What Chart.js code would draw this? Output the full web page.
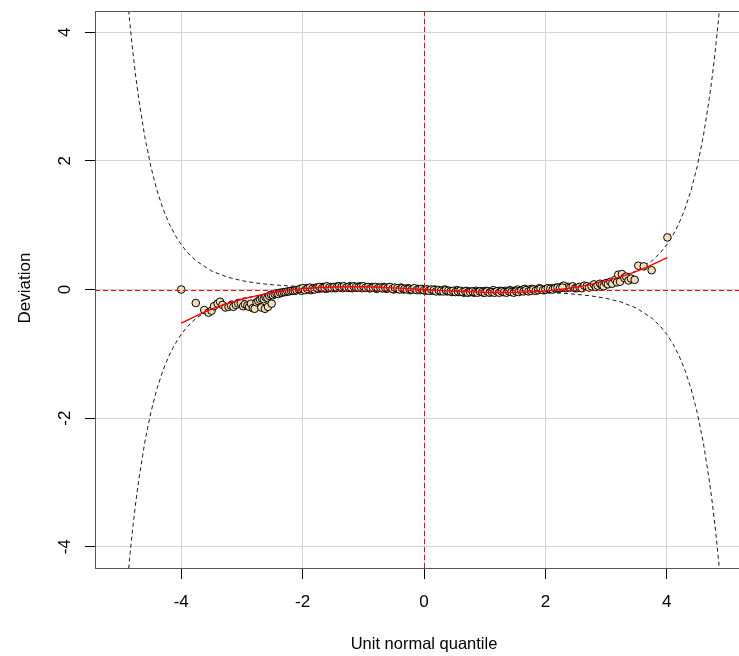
<!DOCTYPE html>
<html>
<head>
<meta charset="utf-8">
<title>Worm plot</title>
<script src="https://cdn.jsdelivr.net/npm/chart.js@4/dist/chart.umd.min.js"></script>
<style>
  html, body { margin: 0; padding: 0; background: #ffffff; overflow: hidden; }
  #wrap { width: 770px; height: 656px; }
</style>
</head>
<body>
<div id="wrap"><canvas id="c" width="770" height="656"></canvas></div>
<script>
// Axis ticks
const xTicks = [-4, -2, 0, 2, 4];
const xTickLabels = ['-4', '-2', '0', '2', '4'];
const yTicks = [-4, -2, 0, 2, 4];
const yTickLabels = ['-4', '-2', '0', '2', '4'];

// Residual quantiles (unit normal quantile) and their deviations
const wormX = [
  -4.00, -3.76, -3.62, -3.55, -3.50, -3.46, -3.40, -3.36, -3.32, -3.27,
  -3.22, -3.18, -3.14, -3.10, -3.06, -3.02, -2.98, -2.95, -2.91, -2.88,
  -2.85, -2.82, -2.79, -2.76, -2.73, -2.70, -2.68, -2.67, -2.64, -2.62,
  -2.61, -2.58, -2.57, -2.55, -2.52, -2.51, -2.49, -2.46, -2.43, -2.40,
  -2.37, -2.34, -2.31, -2.28, -2.25, -2.22, -2.19, -2.16, -2.13, -2.10,
  -2.06, -2.02, -1.98, -1.94, -1.90, -1.86, -1.82, -1.78, -1.74, -1.70,
  -1.66, -1.62, -1.58, -1.54, -1.50, -1.46, -1.42, -1.38, -1.34, -1.30,
  -1.26, -1.22, -1.18, -1.14, -1.10, -1.06, -1.02, -0.98, -0.94, -0.90,
  -0.86, -0.82, -0.78, -0.74, -0.70, -0.66, -0.62, -0.58, -0.54, -0.50,
  -0.46, -0.42, -0.38, -0.34, -0.30, -0.26, -0.22, -0.18, -0.14, -0.10,
  -0.06, -0.02, 0.02, 0.06, 0.10, 0.14, 0.18, 0.22, 0.26, 0.30,
  0.34, 0.38, 0.42, 0.46, 0.50, 0.54, 0.58, 0.62, 0.66, 0.70,
  0.74, 0.78, 0.82, 0.86, 0.90, 0.94, 0.98, 1.02, 1.06, 1.10,
  1.14, 1.18, 1.22, 1.26, 1.30, 1.34, 1.38, 1.42, 1.46, 1.50,
  1.54, 1.58, 1.62, 1.66, 1.70, 1.74, 1.78, 1.82, 1.86, 1.90,
  1.94, 1.98, 2.02, 2.06, 2.10, 2.14, 2.18, 2.22, 2.26, 2.30,
  2.34, 2.38, 2.41, 2.45, 2.49, 2.52, 2.56, 2.60, 2.64, 2.68,
  2.72, 2.76, 2.80, 2.83, 2.86, 2.90, 2.93, 2.96, 3.00, 3.03,
  3.07, 3.10, 3.15, 3.18, 3.20, 3.23, 3.26, 3.30, 3.33, 3.37,
  3.41, 3.47, 3.53, 3.62, 3.75, 4.01
];
const wormY = [
  0.00, -0.21, -0.32, -0.36, -0.33, -0.26, -0.22, -0.19, -0.24, -0.28,
  -0.27, -0.25, -0.27, -0.24, -0.22, -0.21, -0.26, -0.23, -0.25, -0.27,
  -0.22, -0.29, -0.30, -0.20, -0.18, -0.16, -0.28, -0.14, -0.15, -0.30,
  -0.12, -0.13, -0.27, -0.10, -0.08, -0.22, -0.09, -0.07, -0.06, -0.07,
  -0.05, -0.05, -0.04, -0.04, -0.03, -0.03, -0.02, -0.02, -0.02, -0.01,
  0.00, -0.02, 0.01, 0.02, 0.00, -0.01, 0.02, 0.03, 0.01, 0.03,
  0.04, 0.01, 0.02, 0.04, 0.03, 0.02, 0.05, 0.03, 0.02, 0.04,
  0.03, 0.05, 0.02, 0.04, 0.03, 0.05, 0.02, 0.04, 0.03, 0.02,
  0.04, 0.03, 0.01, 0.03, 0.02, 0.04, 0.01, 0.03, 0.02, 0.00,
  0.02, 0.01, 0.03, 0.00, 0.01, 0.02, -0.01, 0.01, 0.00, 0.01,
  -0.01, 0.00, -0.02, 0.00, -0.01, -0.02, 0.00, -0.01, -0.03, -0.02,
  0.00, -0.03, -0.02, -0.04, -0.03, -0.01, -0.04, -0.03, -0.05, -0.02,
  -0.04, -0.03, -0.05, -0.02, -0.04, -0.03, -0.05, -0.02, -0.04, -0.03,
  -0.01, -0.04, -0.03, -0.02, -0.04, -0.02, -0.03, -0.01, -0.03, -0.02,
  0.00, -0.02, -0.01, 0.01, -0.02, 0.00, 0.01, -0.01, 0.00, 0.02,
  0.00, -0.01, 0.01, 0.00, 0.02, 0.01, 0.03, 0.01, 0.04, 0.06,
  0.02, 0.04, 0.03, 0.05, 0.02, 0.02, 0.04, 0.02, 0.06, 0.05,
  0.03, 0.05, 0.08, 0.04, 0.06, 0.09, 0.07, 0.05, 0.10, 0.08,
  0.12, 0.09, 0.15, 0.11, 0.23, 0.12, 0.24, 0.18, 0.20, 0.14,
  0.17, 0.15, 0.37, 0.36, 0.30, 0.81
];

// Extra residuals in the crowded centre of the worm
const centreX = [
  -2.04, -2.00, -1.96, -1.92, -1.88, -1.84, -1.80, -1.76, -1.72, -1.68,
  -1.64, -1.60, -1.56, -1.52, -1.48, -1.44, -1.40, -1.36, -1.32, -1.28,
  -1.24, -1.20, -1.16, -1.12, -1.08, -1.04, -1.00, -0.96, -0.92, -0.88,
  -0.84, -0.80, -0.76, -0.72, -0.68, -0.64, -0.60, -0.56, -0.52, -0.48,
  -0.44, -0.40, -0.36, -0.32, -0.28, -0.24, -0.20, -0.16, -0.12, -0.08,
  -0.04, 0.00, 0.04, 0.08, 0.12, 0.16, 0.20, 0.24, 0.28, 0.32,
  0.36, 0.40, 0.44, 0.48, 0.52, 0.56, 0.60, 0.64, 0.68, 0.72,
  0.76, 0.80, 0.84, 0.88, 0.92, 0.96, 1.00, 1.04, 1.08, 1.12,
  1.16, 1.20, 1.24, 1.28, 1.32, 1.36, 1.40, 1.44, 1.48, 1.52,
  1.56, 1.60, 1.64, 1.68, 1.72, 1.76, 1.80, 1.84, 1.88, 1.92,
  1.96, 2.00, 2.04, 2.08, 2.12, 2.16, 2.20, 2.24, 2.28
];
const centreY = [
  0.01, 0.02, -0.01, 0.01, 0.03, 0.01, 0.00, 0.02, 0.04, 0.02,
  0.03, 0.05, 0.03, 0.02, 0.04, 0.03, 0.05, 0.04, 0.05, 0.03,
  0.04, 0.03, 0.05, 0.04, 0.03, 0.04, 0.05, 0.03, 0.04, 0.02,
  0.03, 0.04, 0.02, 0.03, 0.02, 0.03, 0.02, 0.04, 0.01, 0.03,
  0.02, 0.00, 0.02, 0.01, 0.00, 0.01, 0.00, 0.02, -0.01, 0.00,
  0.01, -0.01, 0.00, -0.02, 0.00, -0.01, -0.03, -0.01, -0.02, -0.03,
  -0.01, -0.02, -0.03, -0.02, -0.04, -0.03, -0.02, -0.04, -0.03, -0.05,
  -0.04, -0.03, -0.04, -0.05, -0.03, -0.04, -0.05, -0.03, -0.05, -0.04,
  -0.05, -0.03, -0.05, -0.03, -0.04, -0.05, -0.03, -0.04, -0.05, -0.03,
  -0.04, -0.02, -0.03, -0.01, -0.03, -0.02, 0.00, -0.02, -0.01, 0.01,
  -0.01, 0.00, 0.02, 0.01, 0.00, 0.02, 0.03, 0.02, 0.03
];

// Fitted cubic through the worm
const fitX = [-4.0, -3.5, -3.0, -2.5, -2.0, -1.5, -1.0, -0.5, 0.0, 0.5, 1.0, 1.5, 2.0, 2.5, 3.0, 3.5, 4.01];
const fitY = [-0.521, -0.306, -0.152, -0.048, 0.014, 0.040, 0.042, 0.025, 0.000, -0.026, -0.044, -0.045, -0.022, 0.035, 0.134, 0.282, 0.496];

// 95% pointwise band
const bandX = [
  -5.0, -4.95, -4.9, -4.85, -4.8, -4.75, -4.7, -4.6, -4.5, -4.4, -4.3, -4.2, -4.1, -4.0,
  -3.9, -3.75, -3.5, -3.25, -3.0, -2.75, -2.5, -2.25, -2.0, -1.75, -1.5, -1.0, -0.5, 0.0,
  0.5, 1.0, 1.5, 1.75, 2.0, 2.25, 2.5, 2.75, 3.0, 3.25, 3.5, 3.75, 3.9,
  4.0, 4.1, 4.2, 4.3, 4.4, 4.5, 4.6, 4.7, 4.75, 4.8, 4.85, 4.9, 4.95, 5.0
];
const bandUpper = [
  5.966, 5.288, 4.702, 4.180, 3.725, 3.320, 2.966, 2.374, 1.910, 1.545, 1.255, 1.027, 0.843, 0.697,
  0.578, 0.442, 0.289, 0.196, 0.137, 0.099, 0.074, 0.057, 0.046, 0.038, 0.032, 0.025, 0.022, 0.021,
  0.022, 0.025, 0.032, 0.038, 0.046, 0.057, 0.074, 0.099, 0.137, 0.196, 0.289, 0.442, 0.578,
  0.697, 0.843, 1.027, 1.255, 1.545, 1.910, 2.374, 2.966, 3.320, 3.725, 4.180, 4.702, 5.288, 5.966
];
const bandLower = [
  -5.966, -5.288, -4.702, -4.180, -3.725, -3.320, -2.966, -2.374, -1.910, -1.545, -1.255, -1.027, -0.843, -0.697,
  -0.578, -0.442, -0.289, -0.196, -0.137, -0.099, -0.074, -0.057, -0.046, -0.038, -0.032, -0.025, -0.022, -0.021,
  -0.022, -0.025, -0.032, -0.038, -0.046, -0.057, -0.074, -0.099, -0.137, -0.196, -0.289, -0.442, -0.578,
  -0.697, -0.843, -1.027, -1.255, -1.545, -1.910, -2.374, -2.966, -3.320, -3.725, -4.180, -4.702, -5.288, -5.966
];

const FONT = '"Liberation Sans", Arial, Helvetica, sans-serif';
const pts = (xs, ys) => xs.map((x, i) => ({ x: x, y: ys[i] }));

// Reference lines, frame and all text
const decor = {
  id: 'decor',
  afterDatasetsDraw(chart) {
    const { ctx, chartArea: a, scales: { x, y } } = chart;
    ctx.save();
    ctx.beginPath();
    ctx.rect(a.left, a.top, a.right - a.left, a.bottom - a.top);
    ctx.clip();
    ctx.strokeStyle = '#ff0000';
    ctx.lineWidth = 1;
    ctx.setLineDash([5, 3]);
    const x0 = Math.round(x.getPixelForValue(0)) + 0.5;
    const y0 = Math.round(y.getPixelForValue(0)) + 0.5;
    ctx.beginPath();
    ctx.moveTo(a.left, y0); ctx.lineTo(a.right, y0);
    ctx.moveTo(x0, a.top); ctx.lineTo(x0, a.bottom);
    ctx.stroke();
    ctx.restore();
  },
  afterDraw(chart) {
    const { ctx, chartArea: a, scales: { x, y } } = chart;
    ctx.save();
    ctx.strokeStyle = '#555555';
    ctx.lineWidth = 1;
    ctx.setLineDash([]);
    ctx.strokeRect(a.left + 0.5, a.top + 0.5, a.right - a.left, a.bottom - a.top);

    ctx.fillStyle = '#000000';
    ctx.font = '17px ' + FONT;
    ctx.textAlign = 'center';
    ctx.textBaseline = 'alphabetic';
    xTicks.forEach((v, i) => {
      ctx.fillText(xTickLabels[i], x.getPixelForValue(v), 607);
    });
    yTicks.forEach((v, i) => {
      ctx.save();
      ctx.translate(70, y.getPixelForValue(v));
      ctx.rotate(-Math.PI / 2);
      ctx.fillText(yTickLabels[i], 0, 0);
      ctx.restore();
    });

    ctx.font = '16.5px ' + FONT;
    ctx.fillText('Unit normal quantile', x.getPixelForValue(0), 648.5);

    ctx.font = '17px ' + FONT;
    ctx.save();
    ctx.translate(29.5, 288);
    ctx.rotate(-Math.PI / 2);
    ctx.fillText('Deviation', 0, 0);
    ctx.restore();
    ctx.restore();
  }
};

new Chart(document.getElementById('c'), {
  type: 'scatter',
  data: {
    datasets: [
      {
        type: 'line',
        data: pts(fitX, fitY),
        borderColor: '#ff0000',
        borderWidth: 1.4,
        pointRadius: 0,
        tension: 0.3,
        fill: false,
        order: 0
      },
      {
        type: 'scatter',
        data: pts(wormX.concat(centreX), wormY.concat(centreY)),
        backgroundColor: '#f5deb3',
        borderColor: '#000000',
        borderWidth: 1,
        pointRadius: 3.8,
        pointHoverRadius: 3.8,
        order: 1
      },
      {
        type: 'line',
        data: pts(bandX, bandUpper),
        borderColor: '#1a1a1a',
        borderWidth: 1,
        borderDash: [4, 3],
        pointRadius: 0,
        fill: false,
        order: 2
      },
      {
        type: 'line',
        data: pts(bandX, bandLower),
        borderColor: '#1a1a1a',
        borderWidth: 1,
        borderDash: [4, 3],
        pointRadius: 0,
        fill: false,
        order: 2
      }
    ]
  },
  options: {
    responsive: false,
    devicePixelRatio: 1,
    animation: false,
    events: [],
    layout: { padding: { left: 0, top: 11, right: 17, bottom: 0 } },
    plugins: { legend: { display: false }, tooltip: { enabled: false }, title: { display: false } },
    scales: {
      x: {
        type: 'linear',
        position: 'bottom',
        min: -5.42,
        max: 5.42,
        ticks: { stepSize: 2, includeBounds: false, display: false },
        grid: { color: '#d3d3d3', lineWidth: 1, tickColor: '#000000', tickLength: 11, drawTicks: true },
        border: { display: false },
        afterFit(s) { s.height = 88; }
      },
      y: {
        type: 'linear',
        position: 'left',
        min: -4.33,
        max: 4.33,
        ticks: { stepSize: 2, includeBounds: false, display: false },
        grid: { color: '#d3d3d3', lineWidth: 1, tickColor: '#000000', tickLength: 10, drawTicks: true },
        border: { display: false },
        afterFit(s) { s.width = 95; }
      }
    }
  },
  plugins: [decor]
});
</script>
</body>
</html>
